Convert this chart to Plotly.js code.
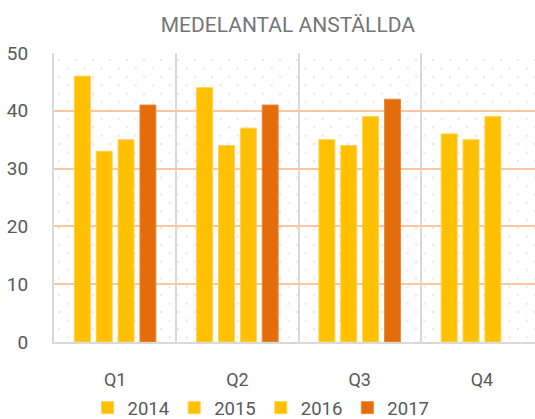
<!DOCTYPE html>
<html>
<head>
<meta charset="utf-8">
<script src="https://cdn.plot.ly/plotly-3.0.1.min.js"></script>
<style>html,body{margin:0;padding:0;background:#fff;overflow:hidden}#chart{width:535px;height:419px}</style>
</head>
<body>
<div id="chart"></div>
<script>
var categories = ["Q1", "Q2", "Q3", "Q4"];
var years = ["2014", "2015", "2016", "2017"];
var v2014 = [46, 44, 35, 36];
var v2015 = [33, 34, 34, 35];
var v2016 = [35, 37, 39, 39];
var v2017 = [41, 41, 42, null];
var yTicks = [0, 10, 20, 30, 40, 50];
var titleText = "MEDELANTAL ANSTÄLLDA";

var seriesValues = [v2014, v2015, v2016, v2017];
var colors = ["#FFC000", "#FFC000", "#FFC000", "#E46C0A"];
var lineColors = ["#FFD24D", "#FFD24D", "#FFD24D", "#EA8A3C"];

var traces = seriesValues.map(function (vals, i) {
  return {
    type: "bar",
    name: years[i],
    x: categories,
    y: vals,
    marker: { color: colors[i], line: { color: lineColors[i], width: 1 } },
    hoverinfo: "x+y+name"
  };
});

// faint dotted background texture
var pw = 481, ph = 289;
var svg = '<svg xmlns="http://www.w3.org/2000/svg" width="' + pw + '" height="' + ph + '" viewBox="0 0 ' + pw + ' ' + ph + '" preserveAspectRatio="none">' +
  '<defs><pattern id="p" x="4" y="6" width="17" height="16.8" patternUnits="userSpaceOnUse">' +
  '<rect x="0" y="0" width="2.2" height="2.2" fill="#e9e9e9"/>' +
  '<rect x="8.5" y="8.4" width="2.2" height="2.2" fill="#e9e9e9"/>' +
  '</pattern></defs><rect width="100%" height="100%" fill="url(#p)"/></svg>';
var svgUri = "data:image/svg+xml;charset=utf-8," + encodeURIComponent(svg);

var font = "Roboto, 'DejaVu Sans', sans-serif";

var layout = {
  width: 535,
  height: 419,
  margin: { l: 54, r: 0, t: 53, b: 77 },
  paper_bgcolor: "#ffffff",
  plot_bgcolor: "rgba(0,0,0,0)",
  font: { family: font, color: "#595959", size: 18 },
  title: {
    text: titleText,
    font: { family: font, size: 21, color: "#767676" },
    x: 0.538, xref: "container", xanchor: "center",
    y: 0.941, yref: "container", yanchor: "middle"
  },
  barmode: "group",
  bargap: 0.285,
  bargroupgap: 0.27,
  showlegend: true,
  legend: {
    orientation: "h",
    x: 0.488, xref: "container", xanchor: "center",
    y: 0.026, yref: "container", yanchor: "middle",
    font: { family: font, size: 18.5, color: "#595959" },
    traceorder: "normal",
    itemclick: false
  },
  xaxis: {
    type: "category",
    range: [-0.5, 3.434],
    tickson: "boundaries",
    showgrid: true,
    gridcolor: "#d9d9d9",
    gridwidth: 2,
    showline: true,
    linecolor: "#d9d9d9",
    linewidth: 2,
    ticks: "",
    ticklabelstandoff: 20,
    tickfont: { family: font, size: 18, color: "#595959" },
    fixedrange: true
  },
  yaxis: {
    range: [0, 50],
    tickvals: yTicks,
    ticktext: yTicks.map(String),
    showgrid: true,
    gridcolor: "#F9C8A2",
    gridwidth: 2,
    zeroline: false,
    showline: true,
    linecolor: "#d9d9d9",
    linewidth: 2,
    ticks: "",
    ticklabelstandoff: 20,
    tickfont: { family: font, size: 19, color: "#595959" },
    fixedrange: true
  },
  images: [{
    source: svgUri,
    xref: "paper", yref: "paper",
    x: 0, y: 1, sizex: 1, sizey: 1,
    xanchor: "left", yanchor: "top",
    sizing: "stretch",
    layer: "below"
  }]
};

Plotly.newPlot("chart", traces, layout, { displayModeBar: false, staticPlot: true });
</script>
</body>
</html>
